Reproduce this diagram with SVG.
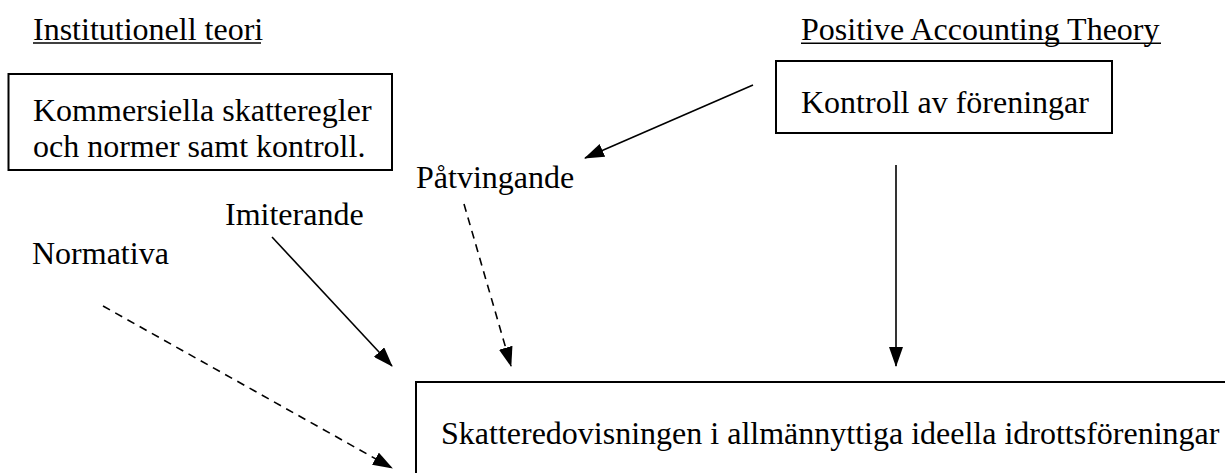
<svg xmlns="http://www.w3.org/2000/svg" width="1225" height="473" viewBox="0 0 1225 473">
<style>
text{font-family:"Liberation Serif","Times New Roman",serif;font-size:32px;fill:#000}
.box{fill:#fff;stroke:#000;stroke-width:2}
.ul{stroke:#000;stroke-width:1.6}
.c{fill:none;stroke:#000;stroke-width:1.6}
.d{stroke-dasharray:8 6}
</style>
<defs>
<marker id="ah" markerUnits="userSpaceOnUse" markerWidth="20" markerHeight="14" refX="19" refY="7" orient="auto" viewBox="0 0 20 14">
<path d="M0,0 L20,7 L0,14 z" fill="#000"/>
</marker>
</defs>
<g id="title-inst"><text x="33" y="39.5">Institutionell teori</text><line class="ul" x1="33" y1="43" x2="261" y2="43"/></g>
<g id="title-pat"><text x="801" y="39.5">Positive Accounting Theory</text><line class="ul" x1="801" y1="43.3" x2="1161" y2="43.3"/></g>
<g id="node-kommersiella"><rect class="box" x="8.5" y="74" width="383.5" height="96"/><text x="33" y="121">Kommersiella skatteregler</text><text x="33" y="157">och normer samt kontroll.</text></g>
<g id="node-kontroll"><rect class="box" x="776" y="61" width="336" height="72"/><text x="801" y="113">Kontroll av föreningar</text></g>
<g id="node-skatt"><rect class="box" x="416" y="382" width="820" height="110"/><text x="441" y="444">Skatteredovisningen i allmännyttiga ideella idrottsföreningar</text></g>
<g id="label-patv"><text x="416" y="188">Påtvingande</text></g>
<g id="label-imit"><text x="225" y="225">Imiterande</text></g>
<g id="label-norm"><text x="32" y="264">Normativa</text></g>
<g id="connectors">
<line class="c" x1="753" y1="85" x2="585" y2="158" marker-end="url(#ah)"/>
<line class="c" x1="896" y1="165" x2="896" y2="366" marker-end="url(#ah)"/>
<line class="c" x1="272" y1="237" x2="392" y2="366" marker-end="url(#ah)"/>
<line class="c d" x1="464" y1="204" x2="511" y2="366" marker-end="url(#ah)"/>
<line class="c d" x1="103" y1="306" x2="392" y2="468" marker-end="url(#ah)"/>
</g>
</svg>
